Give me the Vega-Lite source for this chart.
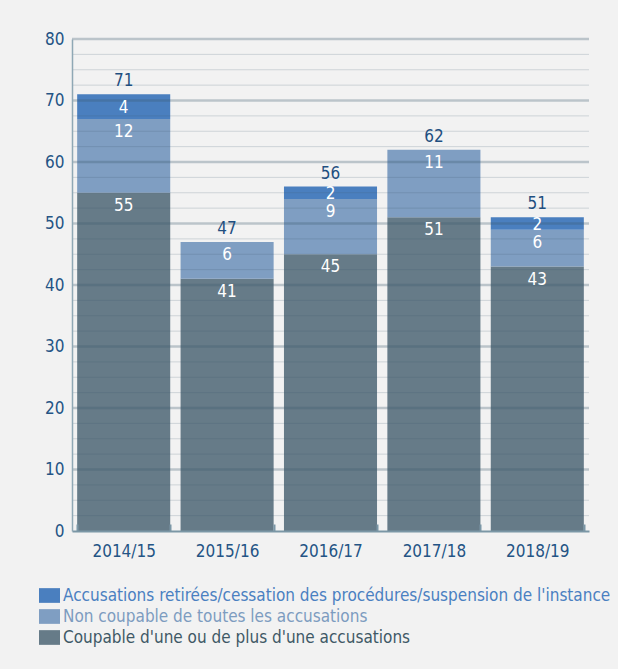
{
  "$schema": "https://vega.github.io/schema/vega-lite/v6.json",
  "width": 517,
  "height": 492,
  "autosize": {"type": "none"},
  "padding": {"left": 72, "top": 39, "right": 29, "bottom": 138},
  "background": "#f2f2f2",
  "config": {
    "view": {"stroke": null},
    "font": "Liberation Sans Narrow, DejaVu Sans Condensed, Open Sans, sans-serif"
  },
  "datasets": {
    "counts": [
      {"year": "2014/15", "outcome": "Coupable d'une ou de plus d'une accusations", "value": 55},
      {"year": "2014/15", "outcome": "Non coupable de toutes les accusations", "value": 12},
      {"year": "2014/15", "outcome": "Accusations retirées/cessation des procédures/suspension de l'instance", "value": 4},
      {"year": "2015/16", "outcome": "Coupable d'une ou de plus d'une accusations", "value": 41},
      {"year": "2015/16", "outcome": "Non coupable de toutes les accusations", "value": 6},
      {"year": "2016/17", "outcome": "Coupable d'une ou de plus d'une accusations", "value": 45},
      {"year": "2016/17", "outcome": "Non coupable de toutes les accusations", "value": 9},
      {"year": "2016/17", "outcome": "Accusations retirées/cessation des procédures/suspension de l'instance", "value": 2},
      {"year": "2017/18", "outcome": "Coupable d'une ou de plus d'une accusations", "value": 51},
      {"year": "2017/18", "outcome": "Non coupable de toutes les accusations", "value": 11},
      {"year": "2018/19", "outcome": "Coupable d'une ou de plus d'une accusations", "value": 43},
      {"year": "2018/19", "outcome": "Non coupable de toutes les accusations", "value": 6},
      {"year": "2018/19", "outcome": "Accusations retirées/cessation des procédures/suspension de l'instance", "value": 2}
    ],
    "grid": [
      {"g": 2.5}, {"g": 5}, {"g": 7.5}, {"g": 10}, {"g": 12.5}, {"g": 15}, {"g": 17.5}, {"g": 20},
      {"g": 22.5}, {"g": 25}, {"g": 27.5}, {"g": 30}, {"g": 32.5}, {"g": 35}, {"g": 37.5}, {"g": 40},
      {"g": 42.5}, {"g": 45}, {"g": 47.5}, {"g": 50}, {"g": 52.5}, {"g": 55}, {"g": 57.5}, {"g": 60},
      {"g": 62.5}, {"g": 65}, {"g": 67.5}, {"g": 70}, {"g": 72.5}, {"g": 75}, {"g": 77.5}, {"g": 80}
    ]
  },
  "layer": [
    {
      "data": {"name": "counts"},
      "transform": [
        {"calculate": "test(/^Coupable/, datum.outcome) ? 0 : (test(/^Non/, datum.outcome) ? 1 : 2)", "as": "rank"},
        {"stack": "value", "groupby": ["year"], "sort": [{"field": "rank", "order": "ascending"}], "as": ["v0", "v1"]}
      ],
      "mark": {"type": "bar"},
      "encoding": {
        "x": {
          "field": "year", "type": "nominal",
          "scale": {"paddingInner": 0.1, "paddingOuter": 0.05},
          "axis": {
            "title": null, "labelAngle": 0, "labelColor": "#245485", "labelFontSize": 17,
            "labelPadding": 19, "domainColor": "#7b97a6", "domainWidth": 2,
            "tickBand": "extent", "tickSize": -7, "tickColor": "#7b97a6", "tickWidth": 2,
            "grid": false, "zindex": 1
          }
        },
        "y": {
          "field": "v0", "type": "quantitative",
          "scale": {"domain": [0, 80], "nice": false},
          "axis": {
            "title": null,
            "values": [0, 10, 20, 30, 40, 50, 60, 70, 80],
            "grid": false,
            "ticks": false,
            "domainColor": "#8fa8b5", "domainWidth": 1.5,
            "labelColor": "#245485", "labelFontSize": 17, "labelPadding": 8,
            "zindex": 1
          }
        },
        "y2": {"field": "v1"},
        "color": {
          "field": "outcome", "type": "nominal",
          "scale": {
            "domain": ["Accusations retirées/cessation des procédures/suspension de l'instance", "Non coupable de toutes les accusations", "Coupable d'une ou de plus d'une accusations"],
            "range": ["#4a7fbf", "#7f9ec2", "#667b88"]
          },
          "legend": {
            "title": null, "orient": "none", "legendX": -33, "legendY": 546,
            "direction": "vertical", "padding": 0,
            "symbolType": "M-1,-0.7H1V0.7H-1Z", "symbolSize": 441, "symbolStrokeWidth": 0, "symbolOpacity": 1,
            "labelFontSize": 17, "labelOffset": 3, "rowPadding": 2, "labelLimit": 700,
            "encode": {"labels": {"update": {"fill": {"signal": "test(/^Acc/, datum.value) ? '#4a80c1' : (test(/^Non/, datum.value) ? '#7d9cc0' : '#3f5966')"}}}}
          }
        }
      }
    },
    {
      "data": {"name": "grid"},
      "mark": {"type": "rule"},
      "encoding": {
        "y": {"field": "g", "type": "quantitative"},
        "color": {"condition": {"test": "datum.g % 10 === 0", "value": "rgba(61,90,110,0.3)"}, "value": "rgba(61,90,110,0.2)"},
        "strokeWidth": {"condition": {"test": "datum.g % 10 === 0", "value": 2.5}, "value": 1}
      }
    },
    {
      "data": {"name": "counts"},
      "transform": [
        {"calculate": "test(/^Coupable/, datum.outcome) ? 0 : (test(/^Non/, datum.outcome) ? 1 : 2)", "as": "rank"},
        {"stack": "value", "groupby": ["year"], "sort": [{"field": "rank", "order": "ascending"}], "as": ["v0", "v1"]},
        {"filter": "datum.value >= 5"}
      ],
      "mark": {"type": "text", "color": "white", "fontSize": 17, "baseline": "middle", "dy": 13},
      "encoding": {
        "x": {"field": "year", "type": "nominal"},
        "y": {"field": "v1", "type": "quantitative"},
        "text": {"field": "value", "type": "quantitative"}
      }
    },
    {
      "data": {"name": "counts"},
      "transform": [
        {"calculate": "test(/^Coupable/, datum.outcome) ? 0 : (test(/^Non/, datum.outcome) ? 1 : 2)", "as": "rank"},
        {"stack": "value", "groupby": ["year"], "sort": [{"field": "rank", "order": "ascending"}], "as": ["v0", "v1"]},
        {"filter": "datum.value < 5"},
        {"calculate": "(datum.v0 + datum.v1) / 2", "as": "vmid"}
      ],
      "mark": {"type": "text", "color": "white", "fontSize": 17, "baseline": "middle", "dy": 1},
      "encoding": {
        "x": {"field": "year", "type": "nominal"},
        "y": {"field": "vmid", "type": "quantitative"},
        "text": {"field": "value", "type": "quantitative"}
      }
    },
    {
      "data": {"name": "counts"},
      "transform": [{"aggregate": [{"op": "sum", "field": "value", "as": "total"}], "groupby": ["year"]}],
      "mark": {"type": "text", "color": "#1f4f80", "fontSize": 17, "baseline": "alphabetic", "dy": -8},
      "encoding": {
        "x": {"field": "year", "type": "nominal"},
        "y": {"field": "total", "type": "quantitative"},
        "text": {"field": "total", "type": "quantitative"}
      }
    }
  ]
}
